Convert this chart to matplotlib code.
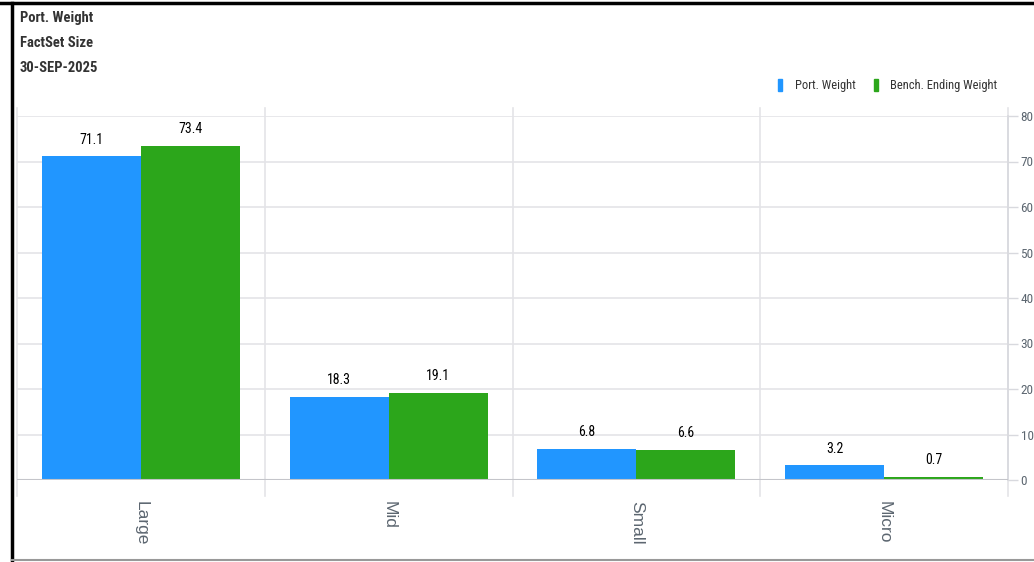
import numpy as np
import matplotlib
matplotlib.use('Agg')
import matplotlib.pyplot as plt
from matplotlib import font_manager
from matplotlib.lines import Line2D
from matplotlib.patches import Rectangle
from matplotlib.transforms import Bbox

categories = ['Large', 'Mid', 'Small', 'Micro']
port_weight = [71.1, 18.3, 6.8, 3.2]
bench_weight = [73.4, 19.1, 6.6, 0.7]
series_names = ['Port. Weight', 'Bench. Ending Weight']
title_lines = ['Port. Weight', 'FactSet Size', '30-SEP-2025']
y_ticks = [0, 10, 20, 30, 40, 50, 60, 70, 80]

BLUE = '#2196ff'
GREEN = '#2ca61b'

# prefer a condensed face if one is installed
installed = {f.name for f in font_manager.fontManager.ttflist}
narrow_name = next((n for n in ['Liberation Sans Narrow', 'Roboto Condensed',
                                'Noto Sans Condensed', 'Open Sans Condensed']
                    if n in installed), 'Liberation Sans')
NARROW = [narrow_name, 'DejaVu Sans']
REGULAR = ['Liberation Sans', 'DejaVu Sans']
k = 1.0 if narrow_name != 'Liberation Sans' else 0.85

W, H = 1034, 562
fig = plt.figure(figsize=(W / 100, H / 100), dpi=100)
fig.patch.set_facecolor('white')


def fx(px):
    return px / W


def fy(py):
    return 1 - py / H


left, right, top, bottom = 17, 1008, 116, 480
ax = fig.add_axes([fx(left), fy(bottom), fx(right - left), (bottom - top) / H])
ax.set_facecolor('none')

x = np.arange(len(categories))
bw = 0.4
ax.bar(x - bw / 2, port_weight, bw, color=BLUE, zorder=3)
ax.bar(x + bw / 2, bench_weight, bw, color=GREEN, zorder=3)

for xs, vals in [(x - bw / 2, port_weight), (x + bw / 2, bench_weight)]:
    for xi, v in zip(xs, vals):
        ax.annotate(f'{v:.1f}', (xi, v), xytext=(0, 7), textcoords='offset points',
                    ha='center', va='bottom', fontsize=10 * k, family=NARROW,
                    color='black')

ax.set_xlim(-0.5, len(categories) - 0.5)
ax.set_ylim(0, 80)

# horizontal grid and right-hand value axis
ax.yaxis.tick_right()
ax.set_yticks(y_ticks)
ax.tick_params(axis='y', length=7, width=1, color='#d8d9de', pad=2,
               labelsize=9.5 * k, labelcolor='#5c6670')
for lab in ax.get_yticklabels():
    lab.set_family(NARROW)
for t in y_ticks[1:]:
    ax.axhline(t, color='#e4e4e8', lw=1.2, zorder=1)
ax.axhline(0, color='#c4c5ca', lw=1.5, zorder=4)

for s in ['top', 'left', 'bottom']:
    ax.spines[s].set_visible(False)
ax.spines['right'].set_color('#d8d9de')
ax.spines['right'].set_linewidth(1.2)

# category separators running below the baseline
ax.set_xticks([])
for b in np.arange(len(categories) + 1) - 0.5:
    xb = ax.transData.transform((b, 0))[0]
    fig.add_artist(Line2D([xb / W, xb / W], [fy(496), fy(108)],
                          color='#e4e4e8', lw=1.2, zorder=0))

# rotated category labels, clipped at the bottom edge
clip = Bbox.from_extents(0, H - 550, W, H)
for xi, name in zip(x, categories):
    xc = ax.transData.transform((xi, 0))[0]
    t = fig.text(xc / W, fy(501), name, rotation=-90, ha='center', va='top',
                 fontsize=12.5, family=REGULAR, color='#5c6670')
    t.set_clip_on(True)
    t.set_clip_box(clip)

# title block
for i, line in enumerate(title_lines):
    fig.text(fx(20), fy(18 + 25 * i), line, ha='left', va='center',
             fontsize=10.5 * k, fontweight='bold', family=NARROW, color='#333333')

# legend
legend_items = [(778, 795, BLUE, series_names[0]), (874, 890, GREEN, series_names[1])]
for mx, tx, col, name in legend_items:
    fig.add_artist(Rectangle((fx(mx), fy(91)), 4 / W, 12 / H, color=col,
                             transform=fig.transFigure))
    fig.text(fx(tx), fy(85), name, ha='left', va='center', fontsize=9 * k,
             family=NARROW, color='#333333')

# frame
fig.add_artist(Line2D([0, 1], [fy(3), fy(3)], color='black', lw=2.5))
fig.add_artist(Line2D([fx(12), fx(12)], [0, fy(3)], color='black', lw=2.5))
fig.add_artist(Line2D([fx(12), 1], [fy(560), fy(560)], color='#999999', lw=1.5))

fig.savefig('out.png', dpi=100)
